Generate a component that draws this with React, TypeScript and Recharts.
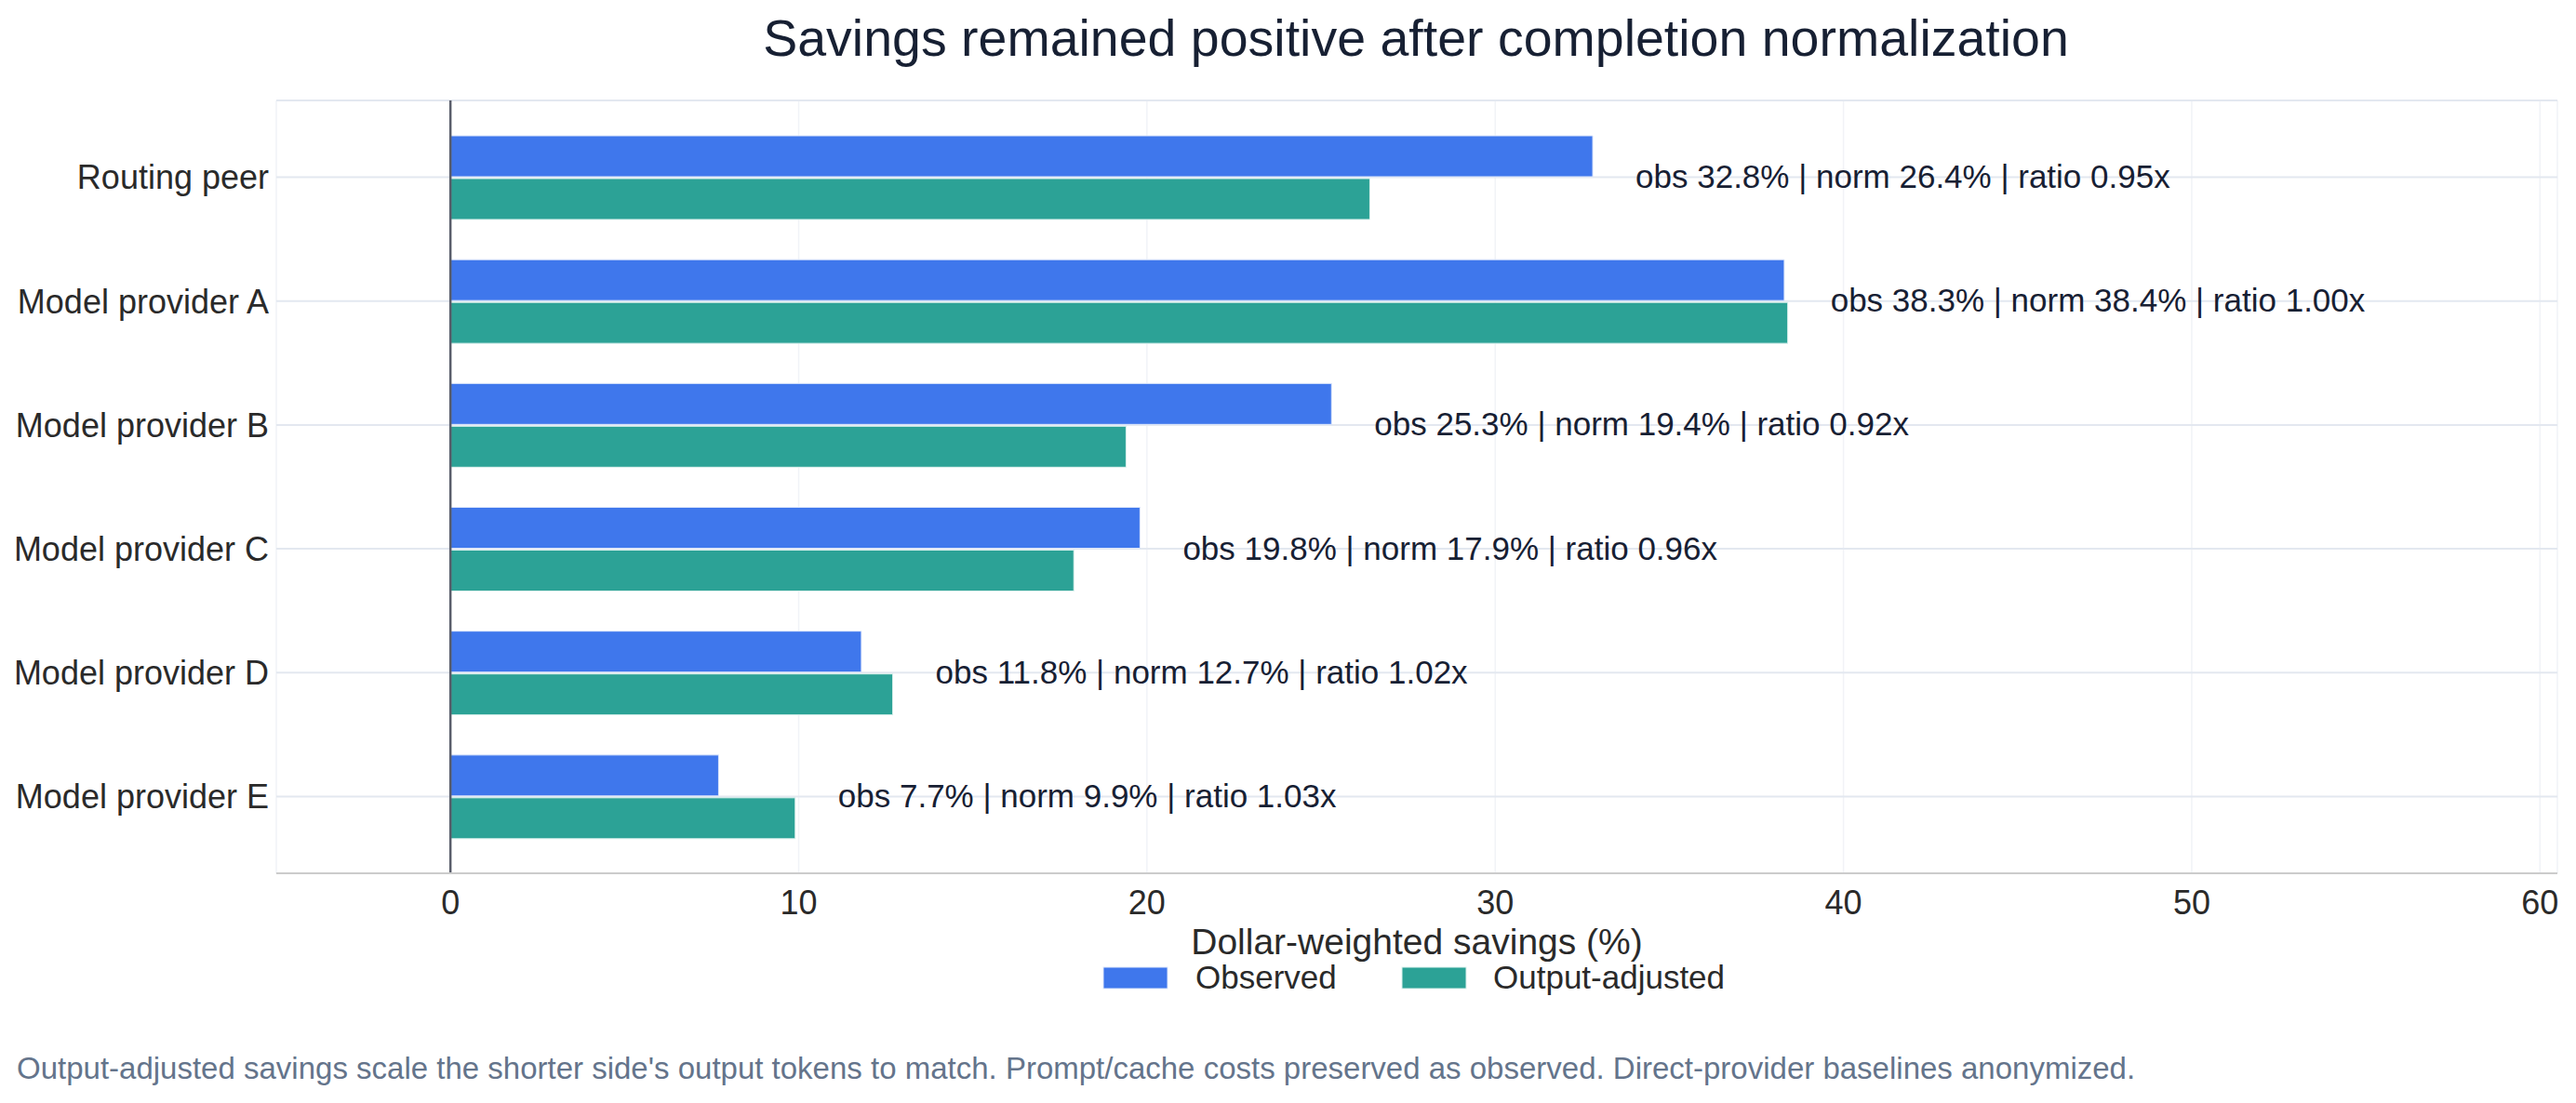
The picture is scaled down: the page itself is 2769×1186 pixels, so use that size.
import React from "react";
import {
  BarChart,
  Bar,
  XAxis,
  YAxis,
  CartesianGrid,
  ReferenceLine,
  LabelList,
} from "recharts";

const providers = [
  "Routing peer",
  "Model provider A",
  "Model provider B",
  "Model provider C",
  "Model provider D",
  "Model provider E",
];
const observed = [32.8, 38.3, 25.3, 19.8, 11.8, 7.7];
const adjusted = [26.4, 38.4, 19.4, 17.9, 12.7, 9.9];
const ratios = [0.95, 1.0, 0.92, 0.96, 1.02, 1.03];
const xTicks = [0, 10, 20, 30, 40, 50, 60];
const seriesNames = ["Observed", "Output-adjusted"];

const W = 2769;
const H = 1186;
const BLUE = "#3f77ec";
const TEAL = "#2ca296";
const SANS = "'Liberation Sans', Arial, Helvetica, sans-serif";

const rows = providers.map((name, i) => ({
  name,
  observed: observed[i],
  adjusted: adjusted[i],
  ratio: ratios[i],
}));

// note to the right of the longer bar in each row
function RowNote(props: any) {
  const { x, y, width, height, index } = props;
  const row = rows[index];
  if (!row) return null;
  const perUnit = Number(width) / row.observed;
  const end = Number(x) + Math.max(row.observed, row.adjusted) * perUnit;
  const text = `obs ${row.observed.toFixed(1)}% | norm ${row.adjusted.toFixed(1)}% | ratio ${row.ratio.toFixed(2)}x`;
  return (
    <text
      x={end + 46}
      y={Number(y) + Number(height) + 12}
      fontFamily={SANS}
      fontSize={35}
      fill="#172033"
    >
      {text}
    </text>
  );
}

export default function App() {
  return (
    <div style={{ position: "absolute", left: 0, top: 0, width: W, height: H, background: "#fff" }}>
      <BarChart
        width={W}
        height={H}
        data={rows}
        layout="vertical"
        margin={{ top: 108, right: 20, bottom: 187, left: 0 }}
        barSize={44}
        barGap={2}
      >
        {/* faint value grid, then row guides through category centres */}
        <CartesianGrid horizontal={false} stroke="#f1f3f7" strokeWidth={1.5} />
        <CartesianGrid vertical={false} stroke="#e3e8f0" strokeWidth={2} />
        <XAxis
          type="number"
          domain={[-5, 60.5]}
          ticks={xTicks}
          allowDataOverflow
          height={60}
          tickLine={false}
          tickSize={0}
          tickMargin={18}
          axisLine={{ stroke: "#cccccc", strokeWidth: 2 }}
          tick={{ fontSize: 36, fill: "#2a2a2a", fontFamily: SANS }}
        />
        <YAxis
          type="category"
          dataKey="name"
          width={297}
          padding={{ top: 16, bottom: 16 }}
          axisLine={false}
          tickLine={false}
          tickSize={0}
          tickMargin={8}
          tick={{ fontSize: 36, fill: "#2a2a2a", fontFamily: SANS }}
        />
        <Bar
          dataKey="observed"
          name={seriesNames[0]}
          fill={BLUE}
          stroke="#dfe8fb"
          strokeWidth={1}
          isAnimationActive={false}
        >
          <LabelList dataKey="observed" content={RowNote} />
        </Bar>
        <Bar
          dataKey="adjusted"
          name={seriesNames[1]}
          fill={TEAL}
          stroke="#dcf1ed"
          strokeWidth={1}
          isAnimationActive={false}
        />
        <ReferenceLine x={0} stroke="#5a5e6b" strokeWidth={2.5} />
      </BarChart>

      <svg
        width={W}
        height={H}
        style={{ position: "absolute", left: 0, top: 0, pointerEvents: "none" }}
      >
        <text
          x={1522}
          y={60}
          textAnchor="middle"
          fontFamily={SANS}
          fontSize={55.5}
          fill="#172033"
        >
          Savings remained positive after completion normalization
        </text>
        <text
          x={1523}
          y={1026}
          textAnchor="middle"
          fontFamily={SANS}
          fontSize={39}
          fill="#2a2a2a"
        >
          Dollar-weighted savings (%)
        </text>
        <rect x={1186} y={1040} width={69} height={23} fill={BLUE} stroke="#dfe8fb" strokeWidth={1} />
        <text x={1285} y={1063} fontFamily={SANS} fontSize={35} fill="#2a2a2a">
          {seriesNames[0]}
        </text>
        <rect x={1507} y={1040} width={69} height={23} fill={TEAL} stroke="#dcf1ed" strokeWidth={1} />
        <text x={1605} y={1063} fontFamily={SANS} fontSize={35} fill="#2a2a2a">
          {seriesNames[1]}
        </text>
        <text x={18} y={1160} fontFamily={SANS} fontSize={33} fill="#64748b">
          Output-adjusted savings scale the shorter side's output tokens to match. Prompt/cache costs preserved as observed. Direct-provider baselines anonymized.
        </text>
      </svg>
    </div>
  );
}
